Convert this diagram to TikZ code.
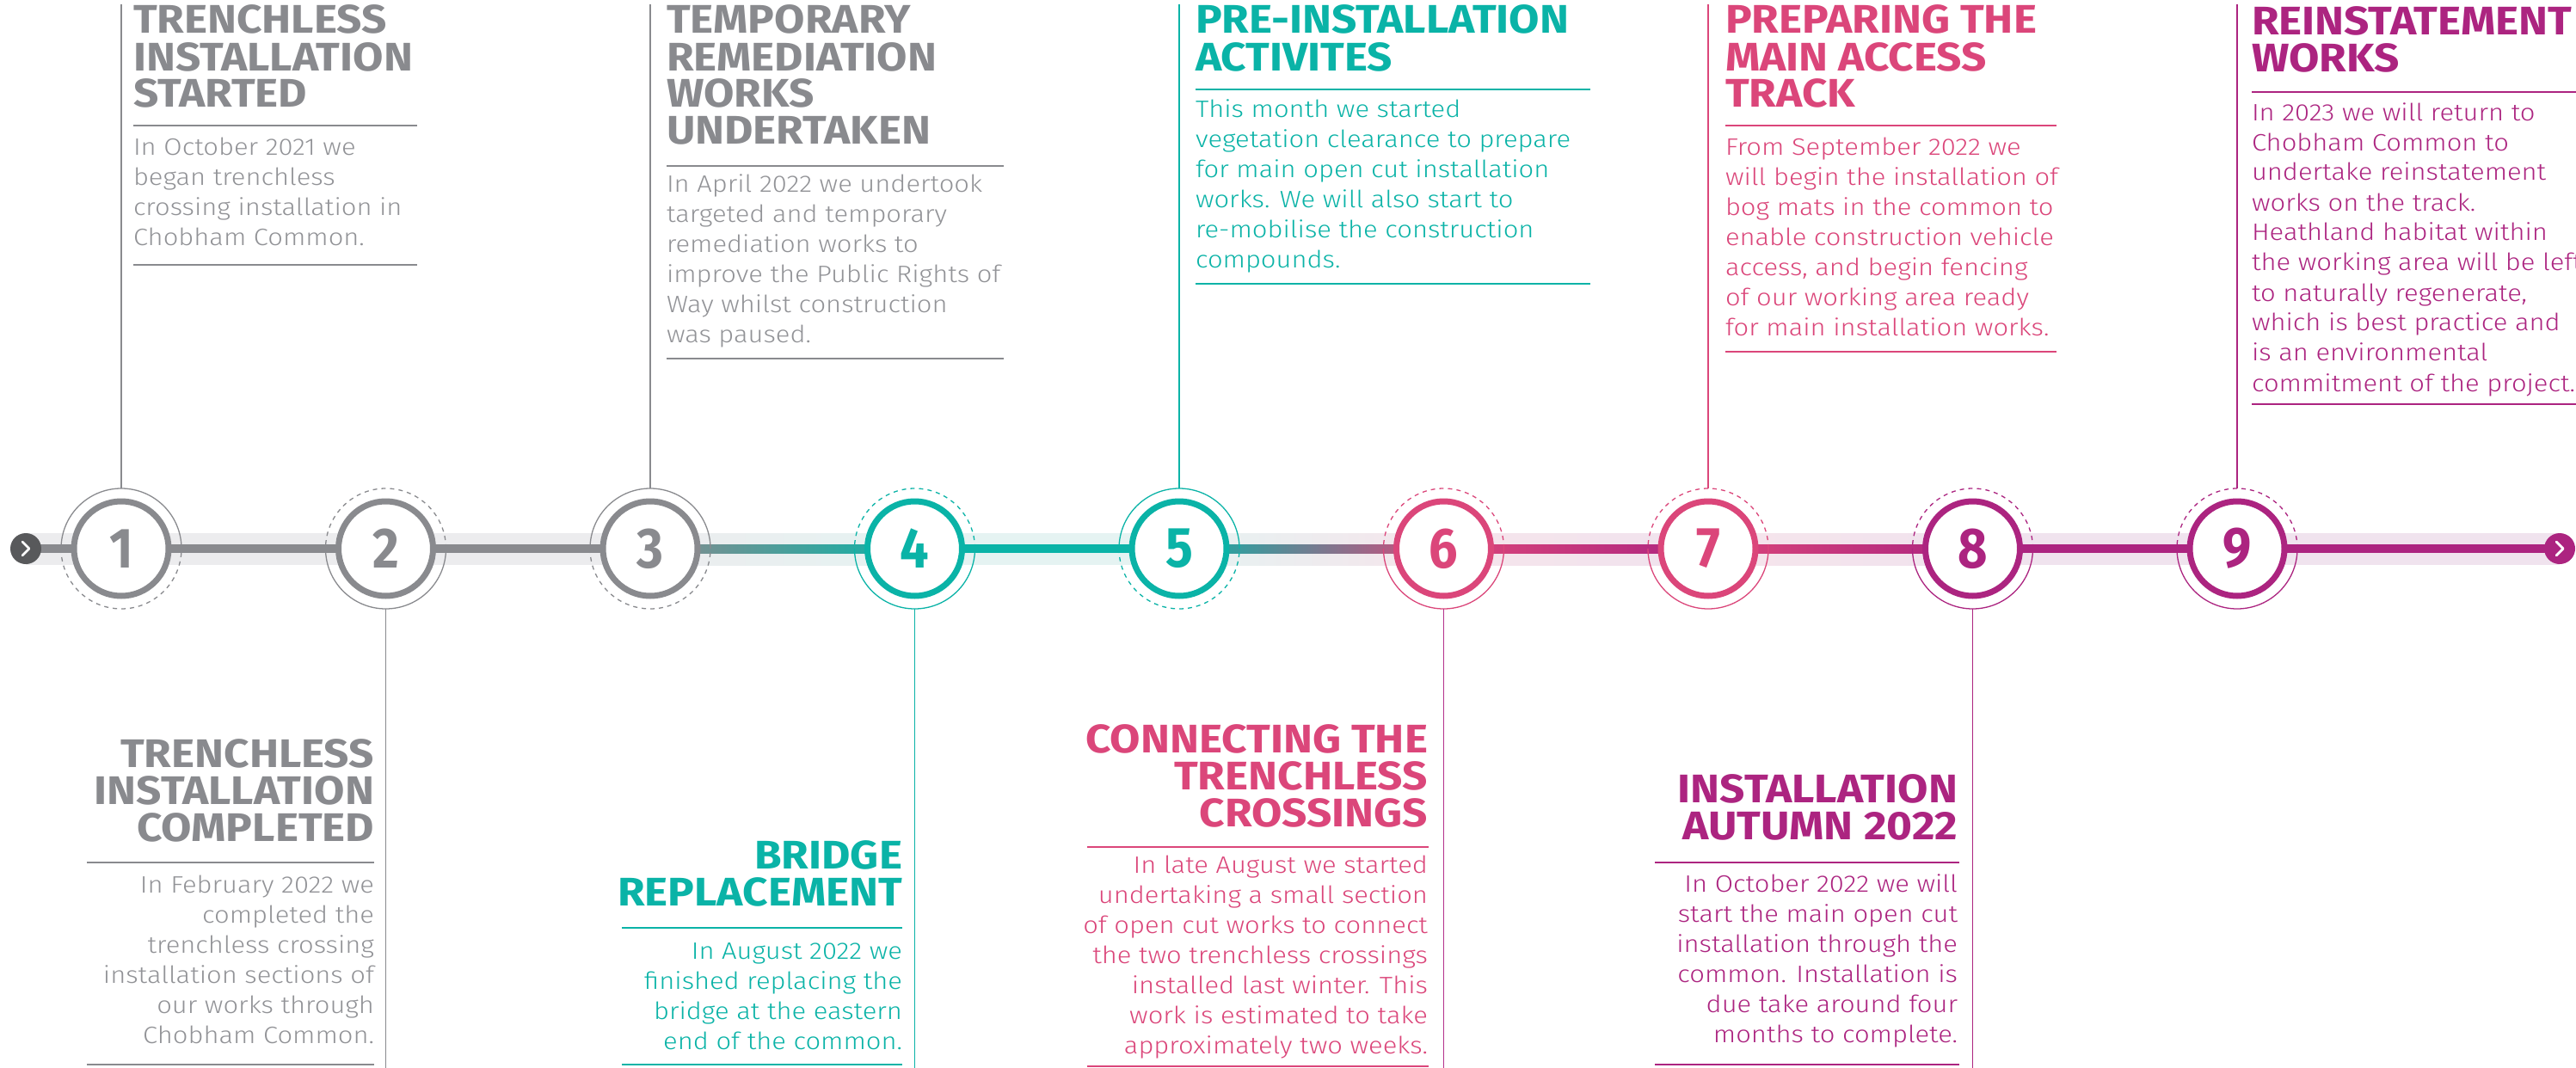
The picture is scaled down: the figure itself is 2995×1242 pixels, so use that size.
\documentclass[tikz,border=0pt]{standalone}
\usepackage{fontspec}
\setmainfont{Fira Sans}
\newfontfamily\headfont{Fira Sans Bold}[FakeStretch=1.105]
\newfontfamily\bodyfont{Fira Sans Light}[FakeStretch=1.12]
\newfontfamily\numfont{Fira Sans Bold}[FakeStretch=0.9]
\definecolor{cgray}{HTML}{898A8E}
\definecolor{cgrayb}{HTML}{929397}
\definecolor{cteal}{HTML}{0AB3A7}
\definecolor{cpink}{HTML}{DB467A}
\definecolor{cpurp}{HTML}{AC2480}
\definecolor{cmag}{HTML}{B4328C}
\definecolor{bgray}{HTML}{ECECEE}
\definecolor{bteal}{HTML}{E5F3F2}
\definecolor{bpink}{HTML}{F6E4EB}
\definecolor{bpurp}{HTML}{F0E3EE}
\definecolor{cdark}{HTML}{58595B}
\newcommand\LL[1]{\vtop{\halign{##\hfil\cr#1\crcr}}}
\newcommand\RR[1]{\vtop{\halign{\hfil##\cr#1\crcr}}}
\newcommand\milestone[5]{%
  \node[halo] (o#1) at (#2,638) {};
  \node[ring, draw=#3, text=#3] (c#1) at (#2,638) {#1};
  \draw[#3, #4] (o#1.east) arc[start angle=0, end angle=180, radius=35pt];
  \draw[#3, #5] (o#1.west) arc[start angle=180, end angle=360, radius=35pt];
}
\begin{document}
\begin{tikzpicture}[x=0.5pt,y=-0.5pt,
  head/.style={inner sep=0, outer sep=0, font=\headfont\fontsize{23.2pt}{21.5pt}\selectfont},
  body/.style={inner sep=0, outer sep=0, font=\bodyfont\fontsize{13.8pt}{17.5pt}\selectfont},
  ring/.style={circle, minimum size=55pt, inner sep=0, outer sep=0, line width=3.5pt, fill=white,
    font=\numfont\fontsize{33pt}{33pt}\selectfont},
  halo/.style={circle, minimum size=70pt, inner sep=0, outer sep=0},
  solidarc/.style={line width=0.65pt},
  dasharc/.style={line width=0.65pt, dash pattern=on 2.5pt off 2.5pt},
  conn/.style={line width=0.75pt},
  rulel/.style={line width=0.7pt},
  btn/.style={circle, minimum size=18pt, inner sep=0, outer sep=0},
  chev/.style={white, line width=1.4pt, line cap=round, line join=round}]
\useasboundingbox (0,0) rectangle (2995,1242);
\fill[white] (0,0) rectangle (2995,1242);
% background band
\fill[bgray] (30,620) rectangle (757,657);
\shade[left color=bgray, right color=bteal] (756,620) rectangle (1064,657);
\fill[bteal] (1063,620) rectangle (1372,657);
\shade[left color=bteal, right color=bpink] (1371,620) rectangle (1679,657);
\shade[left color=bpink, right color=bpurp] (1678,620) rectangle (1987,657);
\shade[left color=bpink, right color=bpurp] (1986,620) rectangle (2294,657);
\fill[bpurp] (2293,620) rectangle (2976,657);
% main line
\fill[cgray] (30,633) rectangle (757,643);
\shade[left color=cgray, right color=cteal] (756,633) rectangle (1064,643);
\fill[cteal] (1063,633) rectangle (1372,643);
\shade[left color=cteal, right color=cpink] (1371,633) rectangle (1679,643);
\shade[left color=cpink, right color=cpurp] (1678,633) rectangle (1987,643);
\shade[left color=cpink, right color=cpurp] (1986,633) rectangle (2294,643);
\fill[cpurp] (2293,633) rectangle (2976,643);
% start / end buttons
\node[btn, fill=cdark] (s) at (30,638) {};
\draw[chev] ([shift={(-4,-8)}]s.center) -- ([shift={(4,0)}]s.center) -- ([shift={(-4,8)}]s.center);
\node[btn, fill=cpurp] (e) at (2976,638) {};
\draw[chev] ([shift={(-4,-8)}]e.center) -- ([shift={(4,0)}]e.center) -- ([shift={(-4,8)}]e.center);
% milestones
\milestone{1}{141}{cgray}{solidarc}{dasharc}
\milestone{2}{448.5}{cgray}{dasharc}{solidarc}
\milestone{3}{756}{cgray}{solidarc}{dasharc}
\milestone{4}{1063.5}{cteal}{dasharc}{solidarc}
\milestone{5}{1371}{cteal}{solidarc}{dasharc}
\milestone{6}{1678.5}{cpink}{dasharc}{solidarc}
\milestone{7}{1986}{cpink}{dasharc}{solidarc}
\milestone{8}{2293.5}{cpurp}{dasharc}{solidarc}
\milestone{9}{2601}{cpurp}{dasharc}{solidarc}
% connector ends
\coordinate (t1) at (141,5);
\coordinate (t2) at (448.5,1242);
\coordinate (t3) at (756,5);
\coordinate (t4) at (1063.5,1242);
\coordinate (t5) at (1371,5);
\coordinate (t6) at (1678.5,1242);
\coordinate (t7) at (1986,5);
\coordinate (t8) at (2293.5,1242);
\coordinate (t9) at (2601,5);
\draw[conn, cgray] (o1.north) -- (t1);
\draw[conn, cgray] (o2.south) -- (t2);
\draw[conn, cgray] (o3.north) -- (t3);
\draw[conn, cteal] (o4.south) -- (t4);
\draw[conn, cteal] (o5.north) -- (t5);
\draw[conn, cmag] (o6.south) -- (t6);
\draw[conn, cpink] (o7.north) -- (t7);
\draw[conn, cpurp] (o8.south) -- (t8);
\draw[conn, cpurp] (o9.north) -- (t9);
% block 1
\node[head, text=cgray, anchor=base west] (h1) at (155,39) {\LL{TRENCHLESS\cr INSTALLATION\cr STARTED}};
\draw[rulel, cgray] (155,146) -- (485,146);
\node[body, text=cgrayb, anchor=base west] (b1) at (155,180) {\LL{In October 2021 we\cr began trenchless\cr crossing installation in\cr Chobham Common.}};
\draw[rulel, cgray] (155,308) -- (485,308);
% block 2
\node[head, text=cgray, anchor=base east] (h2) at (435,892) {\RR{TRENCHLESS\cr INSTALLATION\cr COMPLETED}};
\draw[rulel, cgray] (101,1003) -- (435,1003);
\node[body, text=cgrayb, anchor=base east] (b2) at (435,1038) {\RR{In February 2022 we\cr completed the\cr trenchless crossing\cr installation sections of\cr our works through\cr Chobham Common.}};
\draw[rulel, cgray] (101,1238) -- (435,1238);
% block 3
\node[head, text=cgray, anchor=base west] (h3) at (775,39) {\LL{TEMPORARY\cr REMEDIATION\cr WORKS\cr UNDERTAKEN}};
\draw[rulel, cgray] (775,193) -- (1167,193);
\node[body, text=cgrayb, anchor=base west] (b3) at (775,223) {\LL{In April 2022 we undertook\cr targeted and temporary\cr remediation works to\cr improve the Public Rights of\cr Way whilst construction\cr was paused.}};
\draw[rulel, cgray] (775,417) -- (1167,417);
% block 4
\node[head, text=cteal, anchor=base east] (h4) at (1049,1010) {\RR{BRIDGE\cr REPLACEMENT}};
\draw[rulel, cteal] (723,1079) -- (1049,1079);
\node[body, text=cteal, anchor=base east] (b4) at (1049,1115) {\RR{In August 2022 we\cr finished replacing the\cr bridge at the eastern\cr end of the common.}};
\draw[rulel, cteal] (723,1238) -- (1049,1238);
% block 5
\node[head, text=cteal, anchor=base west] (h5) at (1390,39) {\LL{PRE-INSTALLATION\cr ACTIVITES}};
\draw[rulel, cteal] (1390,104) -- (1849,104);
\node[body, text=cteal, anchor=base west] (b5) at (1390,136) {\LL{This month we started\cr vegetation clearance to prepare\cr for main open cut installation\cr works. We will also start to\cr re-mobilise the construction\cr compounds.}};
\draw[rulel, cteal] (1390,330) -- (1849,330);
% block 6
\node[head, text=cpink, anchor=base east] (h6) at (1660,875) {\RR{CONNECTING THE\cr TRENCHLESS\cr CROSSINGS}};
\draw[rulel, cpink] (1264,985) -- (1661,985);
\node[body, text=cpink, anchor=base east] (b6) at (1660,1015) {\RR{In late August we started\cr undertaking a small section\cr of open cut works to connect\cr the two trenchless crossings\cr installed last winter. This\cr work is estimated to take\cr approximately two weeks.}};
\draw[rulel, cpink] (1264,1240) -- (1661,1240);
% block 7
\node[head, text=cpink, anchor=base west] (h7) at (2006,39) {\LL{PREPARING THE\cr MAIN ACCESS\cr TRACK}};
\draw[rulel, cpink] (2006,146) -- (2391,146);
\node[body, text=cpink, anchor=base west] (b7) at (2006,180) {\LL{From September 2022 we\cr will begin the installation of\cr bog mats in the common to\cr enable construction vehicle\cr access, and begin fencing\cr of our working area ready\cr for main installation works.}};
\draw[rulel, cpink] (2006,409) -- (2391,409);
% block 8
\node[head, text=cpurp, anchor=base east] (h8) at (2276,933) {\RR{INSTALLATION\cr AUTUMN 2022}};
\draw[rulel, cpurp] (1924,1003) -- (2278,1003);
\node[body, text=cpurp, anchor=base east] (b8) at (2276,1037) {\RR{In October 2022 we will\cr start the main open cut\cr installation through the\cr common. Installation is\cr due take around four\cr months to complete.}};
\draw[rulel, cpurp] (1924,1238) -- (2278,1238);
% block 9
\node[head, text=cpurp, anchor=base west] (h9) at (2618,40) {\LL{REINSTATEMENT\cr WORKS}};
\draw[rulel, cpurp] (2618,107) -- (2995,107);
\node[body, text=cpurp, anchor=base west] (b9) at (2618,140) {\LL{In 2023 we will return to\cr Chobham Common to\cr undertake reinstatement\cr works on the track.\cr Heathland habitat within\cr the working area will be left\cr to naturally regenerate,\cr which is best practice and\cr is an environmental\cr commitment of the project.}};
\draw[rulel, cpurp] (2618,470) -- (2995,470);
\end{tikzpicture}
\end{document}
